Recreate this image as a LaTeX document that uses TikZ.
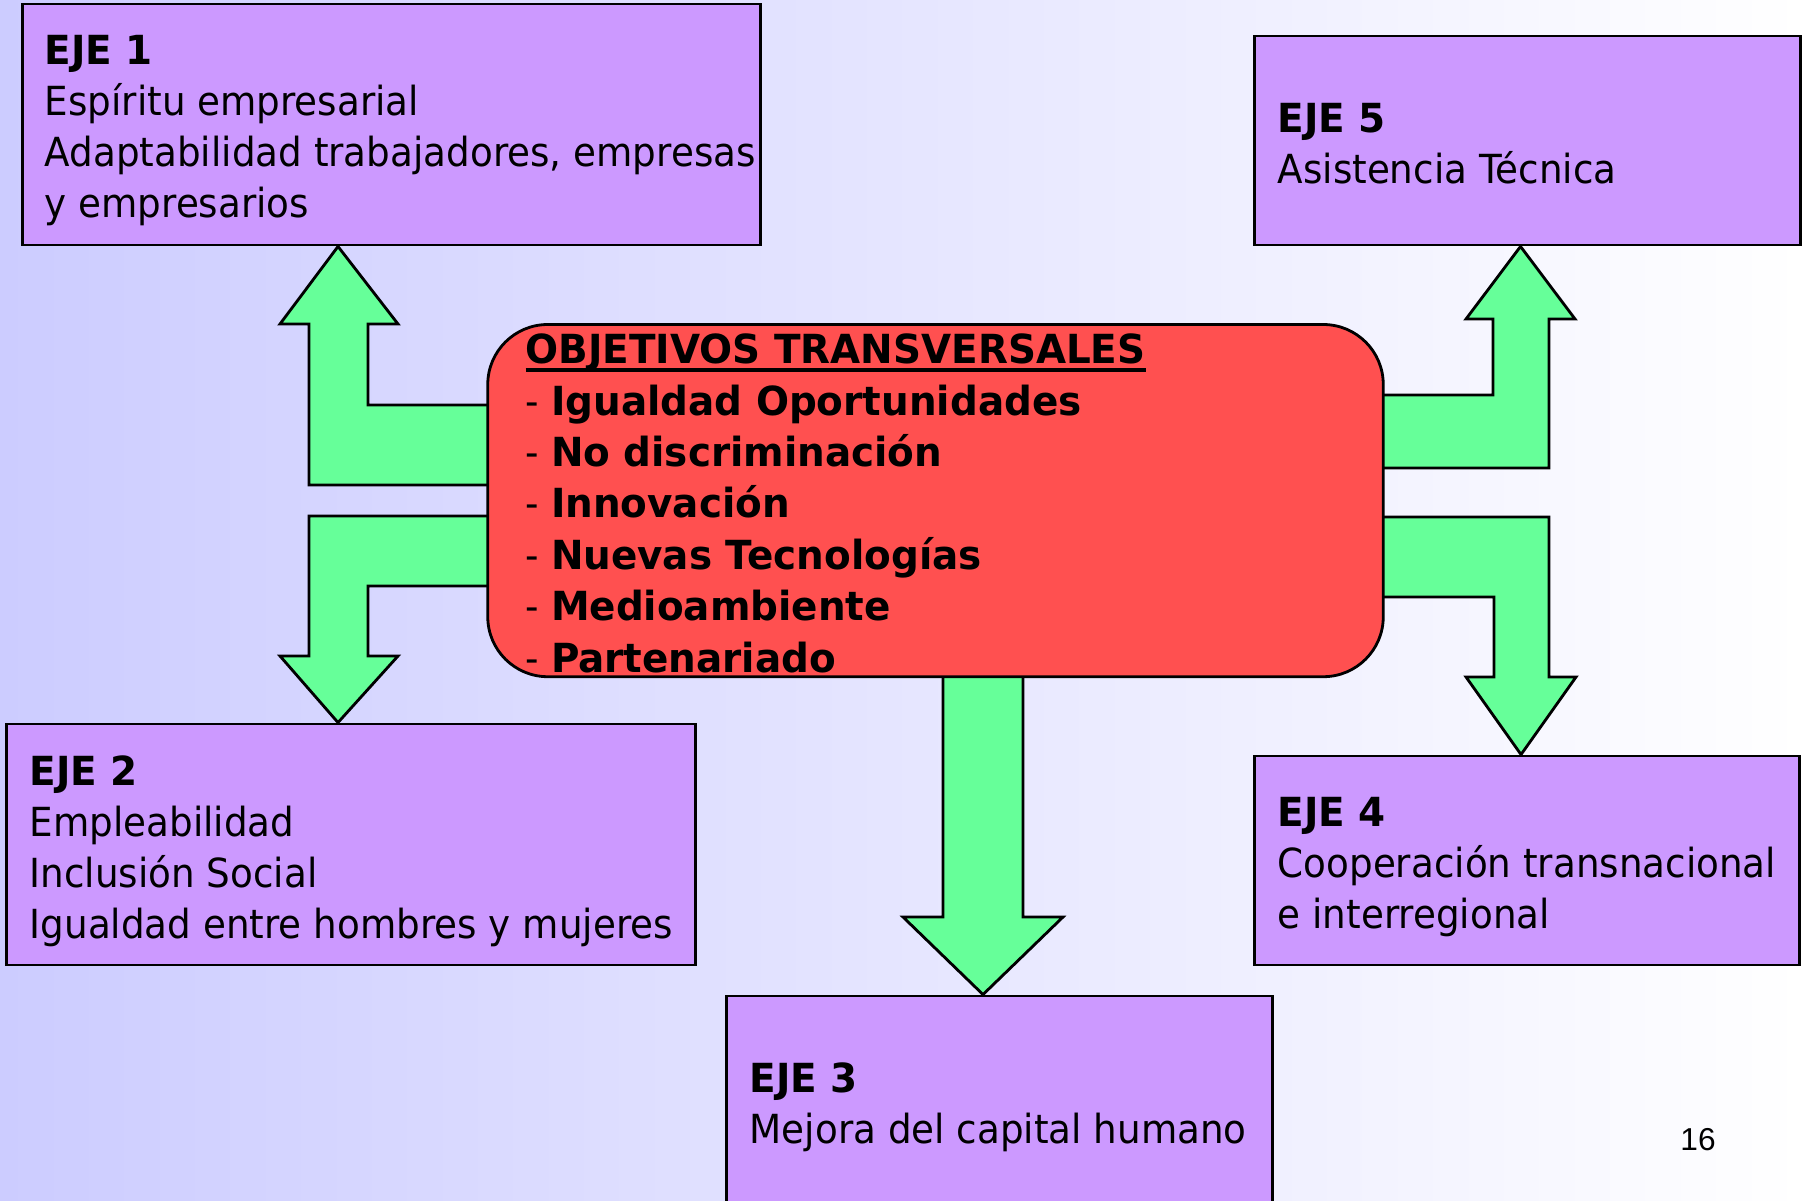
\documentclass[tikz,border=0pt]{standalone}
\usepackage{fontspec}
\setmainfont{DejaVu Sans}[FakeStretch=0.93, BoldFeatures={FakeStretch=0.97}]
\newfontfamily\numfont{Liberation Sans}
\usetikzlibrary{calc}

\definecolor{fondo}{HTML}{CCCCFF}
\definecolor{morado}{HTML}{CC99FF}
\definecolor{rojo}{HTML}{FF5050}
\definecolor{verde}{HTML}{66FF99}

% thick underline for the title
\newcommand{\subrayar}[1]{\setbox0=\hbox{#1}\rlap{\rule[-2.2pt]{\wd0}{1.1pt}}\box0}

\tikzset{
  eje/.style={draw=black, line width=0.8pt, fill=morado, rectangle, inner sep=0pt},
  texto/.style={align=left, inner sep=0pt, font=\fontsize{11.4}{14.45}\selectfont},
  flecha/.style={draw=black, line width=0.8pt, fill=verde, line join=miter},
}

\begin{document}
\begin{tikzpicture}[x=0.01cm, y=-0.01cm]
\useasboundingbox (0,0) rectangle (1804,1200);
\clip (0,0) rectangle (1804,1200);
% Background gradient
\shade[left color=fondo, right color=white] (0,0) rectangle (1804,1200);
% Boxes of the five axes
\node[eje, minimum width=7.37cm, minimum height=2.41cm] (eje1) at (391.5,124.5) {};
\node[eje, minimum width=6.88cm, minimum height=2.41cm] (eje2) at (351,844.5) {};
\node[eje, minimum width=5.45cm, minimum height=2.44cm] (eje3) at (999.5,1118) {};
\node[eje, minimum width=5.44cm, minimum height=2.09cm] (eje4) at (1527,860.5) {};
\node[eje, minimum width=5.45cm, minimum height=2.09cm] (eje5) at (1527.5,140.5) {};
% Arrow up to EJE 1
\draw[flecha] (495,405) -- (368,405) -- (368,324) -- (398,324) -- (eje1.south -| 338,0)
  -- (280,324) -- (309,324) -- (309,485) -- (495,485) -- cycle;
% Arrow down to EJE 2
\draw[flecha] (495,516) -- (309,516) -- (309,656) -- (280,656) -- (eje2.north -| 338,0)
  -- (398,656) -- (368,656) -- (368,586) -- (495,586) -- cycle;
% Arrow down to EJE 3
\draw[flecha] (943,670) -- (943,917) -- (903,917) -- (eje3.north -| 983,0)
  -- (1063,917) -- (1023,917) -- (1023,670) -- cycle;
% Arrow down to EJE 4
\draw[flecha] (1375,517) -- (1549,517) -- (1549,677) -- (1576,677) -- (eje4.north -| 1521,0)
  -- (1466,677) -- (1494,677) -- (1494,597) -- (1375,597) -- cycle;
% Arrow up to EJE 5
\draw[flecha] (1375,395) -- (1493,395) -- (1493,319) -- (1466,319) -- (eje5.south -| 1520.5,0)
  -- (1575,319) -- (1549,319) -- (1549,468) -- (1375,468) -- cycle;
% Central box with the transversal objectives
\node[draw=black, line width=0.8pt, fill=rojo, rounded corners=0.6cm,
  minimum width=8.95cm, minimum height=3.52cm, inner sep=0pt] (obj) at (935.5,500.6) {};
% (base of a multi-line node = baseline of its last line)
\node[texto, anchor=base west, font=\fontsize{11.4}{14.6}\selectfont] (objtexto) at (525,672)
  {\subrayar{\textbf{OBJETIVOS TRANSVERSALES}}\\
   - \textbf{Igualdad Oportunidades}\\
   - \textbf{No discriminación}\\
   - \textbf{Innovación}\\
   - \textbf{Nuevas Tecnologías}\\
   - \textbf{Medioambiente}\\
   - \textbf{Partenariado}};
% Texts of the axes
\node[texto, anchor=base west] (texto1) at (44,217)
  {\textbf{EJE 1}\\Espíritu empresarial\\Adaptabilidad trabajadores, empresas\\y empresarios};
\node[texto, anchor=base west] (texto2) at (29,938)
  {\textbf{EJE 2}\\Empleabilidad\\Inclusión Social\\Igualdad entre hombres y mujeres};
\node[texto, anchor=base west] (texto3) at (749,1143)
  {\textbf{EJE 3}\\Mejora del capital humano};
\node[texto, anchor=base west] (texto4) at (1277,928)
  {\textbf{EJE 4}\\Cooperación transnacional\\e interregional};
\node[texto, anchor=base west] (texto5) at (1277,183)
  {\textbf{EJE 5}\\Asistencia Técnica};
% Page number
\node[anchor=base, inner sep=0pt, font=\numfont\fontsize{9}{11}\selectfont] (pagina) at (1698,1150) {16};
\end{tikzpicture}
\end{document}
